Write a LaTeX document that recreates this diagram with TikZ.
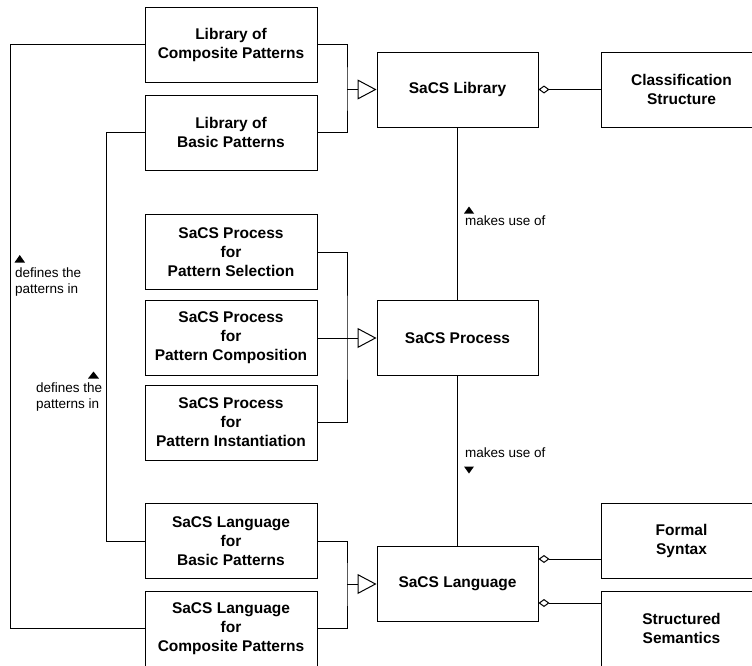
\documentclass[tikz,border=0pt]{standalone}
\usepackage{fontspec}
\setmainfont{Liberation Sans}
\usetikzlibrary{arrows.meta}
\begin{document}
\begin{tikzpicture}[x=1pt,y=-1pt,
  box/.style={draw, line width=1pt, minimum width=172pt, minimum height=75pt,
    inner sep=0pt, align=center, font=\fontsize{15.5}{19}\selectfont\bfseries},
  cbox/.style={box, minimum width=161pt},
  rbox/.style={box, minimum width=160pt, anchor=west},
  wire/.style={line width=1pt},
  gen/.style={wire, -{Triangle[open,length=19pt,width=20pt]}},
  agg/.style={wire, {Diamond[open,length=11pt,width=8pt]}-},
  lbl/.style={font=\fontsize{13.5}{16}\selectfont, inner sep=0pt, anchor=base west},
  tri/.style={fill=black}
]
\clip (0,0) rectangle (752,665);

% left column
\node[box] (complib)   at (231,44.5)  {Library of\\Composite Patterns};
\node[box] (basiclib)  at (231,132.5) {Library of\\Basic Patterns};
\node[box] (sel)       at (231,252)   {SaCS Process\\for\\Pattern Selection};
\node[box] (compo)     at (231,338)   {SaCS Process\\for\\Pattern Composition};
\node[box] (inst)      at (231,422.5) {SaCS Process\\for\\Pattern Instantiation};
\node[box] (basiclang) at (231,541)   {SaCS Language\\for\\Basic Patterns};
\node[box] (complang)  at (231,628.5) {SaCS Language\\for\\Composite Patterns};

% centre column
\node[cbox] (lib)  at (457.5,89.5) {SaCS Library};
\node[cbox] (proc) at (457.5,338)  {SaCS Process};
\node[cbox] (lang) at (457.5,584)  {SaCS Language};

% right column
\node[rbox] (class)  at (601,89.5)  {Classification\\Structure};
\node[rbox] (formal) at (601,540.5) {Formal\\Syntax};
\node[rbox] (sem)    at (601,628.5) {Structured\\Semantics};

% generalisation buses
\coordinate (libbus)  at (347,89.5);
\coordinate (procbus) at (347,338);
\coordinate (langbus) at (347,584);
\draw[wire] (complib.east) -| (libbus) |- (basiclib.east);
\draw[gen] (libbus) -- (lib.west);
\draw[wire] (sel.east) -| (procbus) |- (inst.east);
\draw[gen] (compo.east) -- (proc.west);
\draw[wire] (basiclang.east) -| (langbus) |- (complang.east);
\draw[gen] (langbus) -- (lang.west);

% "defines the patterns in" links
\coordinate (outer) at (10,0);
\coordinate (inner) at (106,0);
\draw[wire] (complib.west) -- (complib.west -| outer) |- (complang.west);
\draw[wire] (basiclib.west) -- (basiclib.west -| inner) |- (basiclang.west);

% usage links
\draw[wire] (lib.south) -- (proc.north);
\draw[wire] (proc.south) -- (lang.north);

% aggregations
\draw[agg] (lib.east) -- (class.west);
\coordinate (fa) at ([yshift=25pt]lang.east);
\coordinate (sa) at ([yshift=-19pt]lang.east);
\draw[agg] (fa) -- (fa -| formal.west);
\draw[agg] (sa) -- (sa -| sem.west);

% labels with direction markers
\fill[tri] (464,213.5) -- (474,213.5) -- (469,206.5) -- cycle;
\node[lbl] (use1) at (465,225) {makes use of};
\node[lbl] (use2) at (465,457) {makes use of};
\fill[tri] (464,466.5) -- (474,466.5) -- (469,473.5) -- cycle;

\fill[tri] (14.5,262.5) -- (25,262.5) -- (19.75,255) -- cycle;
\node[lbl] (def1a) at (15,277) {defines the};
\node[lbl] (def1b) at (15,293) {patterns in};
\fill[tri] (88,378.5) -- (99,378.5) -- (93.5,371.5) -- cycle;
\node[lbl] (def2a) at (36,392) {defines the};
\node[lbl] (def2b) at (36,408) {patterns in};
\end{tikzpicture}
\end{document}
